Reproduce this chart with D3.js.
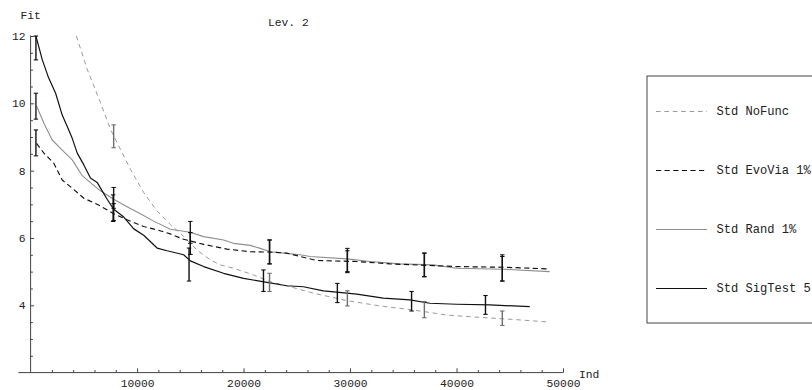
<!DOCTYPE html>
<html>
<head>
<meta charset="utf-8">
<script src="https://cdn.jsdelivr.net/npm/d3@7"></script>
<style>
  html, body { margin: 0; padding: 0; background: #fff; }
  svg { display: block; }
  text { font-family: "Liberation Mono", "DejaVu Sans Mono", monospace; fill: #222; }
</style>
</head>
<body>
<svg id="chart" width="812" height="390"></svg>
<script>
// ---- data ---------------------------------------------------------------
const seriesNames = ["Std NoFunc", "Std EvoVia 1%", "Std Rand 1%", "Std SigTest 5"];

const noFuncX = [4300, 5320, 6560, 7500, 8280, 9380, 10620, 11880, 13120, 14370, 15630, 16880, 17810, 19060, 20940, 22500, 24380, 26560, 29690, 32810, 35940, 39070, 42190, 45310, 48750];
const noFuncY = [12.0, 11.01, 10.02, 9.23, 8.73, 8.04, 7.35, 6.80, 6.40, 6.05, 5.64, 5.35, 5.20, 5.10, 4.90, 4.70, 4.55, 4.36, 4.14, 3.98, 3.86, 3.71, 3.64, 3.58, 3.50];

const evoViaX = [560, 1250, 2180, 2970, 3910, 5000, 6250, 7810, 9060, 10620, 11880, 13120, 14370, 16250, 18440, 20620, 22500, 24060, 25310, 26880, 30630, 33750, 40000, 44370, 48750];
const evoViaY = [8.81, 8.52, 8.22, 7.72, 7.48, 7.18, 7.00, 6.72, 6.54, 6.34, 6.24, 6.12, 5.96, 5.81, 5.67, 5.59, 5.58, 5.55, 5.45, 5.33, 5.30, 5.23, 5.15, 5.13, 5.08];

const randX = [560, 1250, 2030, 2970, 3910, 4850, 5780, 6560, 7810, 9060, 10310, 11560, 13120, 15000, 16250, 18120, 19060, 20620, 21560, 22500, 23750, 25310, 26250, 29690, 31880, 34690, 37810, 40000, 44370, 48750];
const randY = [9.92, 9.41, 8.91, 8.61, 8.32, 7.85, 7.60, 7.40, 7.15, 6.93, 6.72, 6.50, 6.26, 6.17, 6.04, 5.94, 5.84, 5.78, 5.69, 5.59, 5.55, 5.50, 5.45, 5.38, 5.30, 5.23, 5.20, 5.10, 5.07, 5.00];

const sigTestX = [500, 1100, 1700, 2350, 2970, 3440, 3910, 4380, 5000, 5620, 6250, 6720, 7190, 7810, 8750, 9690, 10620, 11880, 12820, 14370, 15000, 16250, 18120, 20000, 22190, 24070, 25620, 27500, 29690, 30630, 33120, 35620, 37500, 40000, 43120, 46880];
const sigTestY = [12.0, 11.29, 10.75, 10.30, 9.65, 9.31, 8.96, 8.52, 8.17, 7.78, 7.65, 7.40, 7.15, 6.85, 6.62, 6.27, 6.08, 5.70, 5.62, 5.50, 5.32, 5.15, 4.95, 4.80, 4.68, 4.58, 4.55, 4.43, 4.36, 4.33, 4.21, 4.16, 4.06, 4.03, 4.01, 3.96];

// error bars: position, low, high
const noFuncErrX  = [7800, 15000, 22440, 29750, 36980, 44300];
const noFuncErrLo = [8.68, 5.51, 4.41, 3.98, 3.63, 3.40];
const noFuncErrHi = [9.36, 6.16, 4.95, 4.43, 4.11, 3.83];

const randErrX  = [500, 7800, 15000, 22440, 29750, 36980, 44300];
const randErrLo = [9.53, 6.88, 5.84, 5.23, 5.00, 4.85, 4.72];
const randErrHi = [10.30, 7.50, 6.49, 5.94, 5.69, 5.55, 5.50];

const evoViaErrX  = [500, 7800, 15000, 22440, 29750, 36980, 44300];
const evoViaErrLo = [8.44, 6.52, 5.51, 5.23, 4.97, 4.85, 4.72];
const evoViaErrHi = [9.21, 7.02, 6.16, 5.94, 5.62, 5.55, 5.45];

const sigTestErrX  = [500, 7750, 14880, 21870, 28810, 35780, 42720];
const sigTestErrLo = [11.29, 6.49, 4.72, 4.41, 4.08, 3.83, 3.73];
const sigTestErrHi = [12.0, 7.28, 5.70, 5.05, 4.65, 4.41, 4.29];

const xMajorTicks = [10000, 20000, 30000, 40000, 50000];
const yMajorTicks = [4, 6, 8, 10, 12];

// ---- layout -------------------------------------------------------------
const svg = d3.select("#chart");
const x = d3.scaleLinear().domain([0, 50000]).range([30.6, 563]);
const y = d3.scaleLinear().domain([2, 12]).range([372.6, 36]);
const xAxisStart = -1150;   // x-axis line runs a little left of the y-axis
const axisColor = "#444";
const fontSize = "11.3px";

// ---- axes ---------------------------------------------------------------
const xMinor = d3.range(2000, 50001, 2000).filter(v => v % 10000 !== 0);
const yMinor = d3.range(2.5, 12, 0.5).filter(v => v % 2 !== 0);

const gx = svg.append("g").attr("transform", `translate(0,${y(2)})`);
gx.append("line")
  .attr("x1", x(xAxisStart)).attr("x2", x(50000))
  .attr("stroke", axisColor).attr("stroke-width", 1);
gx.append("g").call(d3.axisBottom(x).tickValues(xMinor).tickSizeInner(-2.6).tickSizeOuter(0).tickFormat(""))
  .call(g => g.select(".domain").remove())
  .call(g => g.selectAll("line").attr("stroke", axisColor));
gx.append("g").call(d3.axisBottom(x).tickValues(xMajorTicks).tickSizeInner(-4.3).tickSizeOuter(0).tickPadding(6.3).tickFormat(d3.format("d")))
  .call(g => g.select(".domain").remove())
  .call(g => g.selectAll("line").attr("stroke", axisColor))
  .call(g => g.selectAll("text").attr("font-family", null).style("font-size", fontSize).attr("fill", "#222"));

const gy = svg.append("g").attr("transform", `translate(${x(0)},0)`);
gy.append("line")
  .attr("y1", y(2)).attr("y2", y(12) - 0.5)
  .attr("stroke", axisColor).attr("stroke-width", 1);
gy.append("g").call(d3.axisLeft(y).tickValues(yMinor).tickSizeInner(-2.3).tickSizeOuter(0).tickFormat(""))
  .call(g => g.select(".domain").remove())
  .call(g => g.selectAll("line").attr("stroke", axisColor));
gy.append("g").call(d3.axisLeft(y).tickValues(yMajorTicks).tickSizeInner(-3.5).tickSizeOuter(0).tickPadding(5).tickFormat(d3.format("d")))
  .call(g => g.select(".domain").remove())
  .call(g => g.selectAll("line").attr("stroke", axisColor))
  .call(g => g.selectAll("text").attr("font-family", null).style("font-size", fontSize).attr("fill", "#222"));

// axis titles and plot label
svg.append("text").attr("x", 20.5).attr("y", 19).style("font-size", fontSize).text("Fit");
svg.append("text").attr("x", 579).attr("y", 377.5).style("font-size", fontSize).text("Ind");
svg.append("text").attr("x", 268).attr("y", 26).style("font-size", fontSize).text("Lev. 2");

// ---- series -------------------------------------------------------------
const series = [
  { name: seriesNames[0], xs: noFuncX,  ys: noFuncY,  ex: noFuncErrX,  lo: noFuncErrLo,  hi: noFuncErrHi,
    color: "#9a9a9a", width: 1.0, dash: "4.6,3.8", errColor: "#6e6e6e" },
  { name: seriesNames[2], xs: randX,    ys: randY,    ex: randErrX,    lo: randErrLo,    hi: randErrHi,
    color: "#8e8e8e", width: 1.1, dash: null, errColor: "#1a1a1a" },
  { name: seriesNames[1], xs: evoViaX,  ys: evoViaY,  ex: evoViaErrX,  lo: evoViaErrLo,  hi: evoViaErrHi,
    color: "#111", width: 1.15, dash: "5.2,3.4", errColor: "#111" },
  { name: seriesNames[3], xs: sigTestX, ys: sigTestY, ex: sigTestErrX, lo: sigTestErrLo, hi: sigTestErrHi,
    color: "#111", width: 1.2, dash: null, errColor: "#111" }
];

svg.append("clipPath").attr("id", "plot-clip")
  .append("rect").attr("x", x(0)).attr("y", y(12)).attr("width", 812 - x(0)).attr("height", y(2) - y(12));

const plot = svg.append("g").attr("clip-path", "url(#plot-clip)");
const line = d3.line().x(d => x(d[0])).y(d => y(d[1]));

series.forEach(s => {
  const pts = s.xs.map((v, i) => [v, s.ys[i]]);
  plot.append("path")
    .datum(pts)
    .attr("d", line)
    .attr("fill", "none")
    .attr("stroke", s.color)
    .attr("stroke-width", s.width)
    .attr("stroke-dasharray", s.dash)
    .attr("stroke-linejoin", "round");
});

// error bars drawn over the curves
const capHalf = 2.2;
series.forEach(s => {
  const g = svg.append("g").attr("stroke", s.errColor).attr("stroke-width", 1.4).attr("fill", "none");
  const bars = s.ex.map((v, i) => ({ x: v, lo: s.lo[i], hi: s.hi[i] }));
  g.selectAll("line.bar").data(bars).join("line")
    .attr("x1", d => x(d.x)).attr("x2", d => x(d.x))
    .attr("y1", d => y(d.lo)).attr("y2", d => y(d.hi));
  g.selectAll("line.capLo").data(bars).join("line").attr("class", "capLo")
    .attr("x1", d => x(d.x) - capHalf).attr("x2", d => x(d.x) + capHalf)
    .attr("y1", d => y(d.lo)).attr("y2", d => y(d.lo)).attr("stroke-width", 1.1);
  g.selectAll("line.capHi").data(bars).join("line").attr("class", "capHi")
    .attr("x1", d => x(d.x) - capHalf).attr("x2", d => x(d.x) + capHalf)
    .attr("y1", d => y(d.hi)).attr("y2", d => y(d.hi)).attr("stroke-width", 1.1);
});

// ---- legend -------------------------------------------------------------
const legend = svg.append("g").attr("transform", "translate(647,76)");
legend.append("rect")
  .attr("x", 0).attr("y", 0).attr("width", 220).attr("height", 247)
  .attr("fill", "#fff").attr("stroke", "#444").attr("stroke-width", 1);

const legendOrder = [series[0], series[2], series[1], series[3]];
const legendY = d3.scalePoint().domain(legendOrder.map(s => s.name)).range([35.5, 212.5]);

legendOrder.forEach(s => {
  const ly = legendY(s.name);
  legend.append("line")
    .attr("x1", 9).attr("x2", 60).attr("y1", ly).attr("y2", ly)
    .attr("stroke", s.color).attr("stroke-width", s.width)
    .attr("stroke-dasharray", s.dash);
  legend.append("text")
    .attr("x", 69.5).attr("y", ly + 3.8)
    .style("font-size", "12.1px")
    .text(s.name);
});
</script>
</body>
</html>
